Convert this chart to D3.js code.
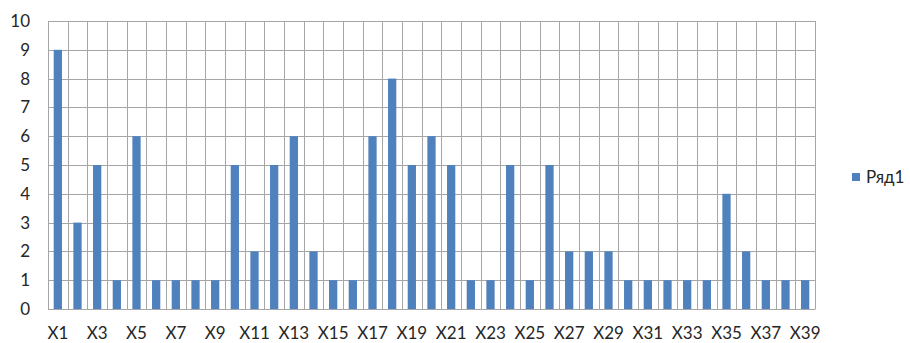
<!DOCTYPE html>
<html>
<head>
<meta charset="utf-8">
<script src="https://cdn.jsdelivr.net/npm/d3@7"></script>
<style>
  html, body { margin: 0; padding: 0; background: #fff; }
  svg { display: block; font-family: Lato, "Open Sans", sans-serif; }
</style>
</head>
<body>
<svg id="chart" width="910" height="343"></svg>
<script>
// Categories X1..X39 and their counts
const categories = ["X1","X2","X3","X4","X5","X6","X7","X8","X9","X10",
  "X11","X12","X13","X14","X15","X16","X17","X18","X19","X20",
  "X21","X22","X23","X24","X25","X26","X27","X28","X29","X30",
  "X31","X32","X33","X34","X35","X36","X37","X38","X39"];
const values = [9,3,5,1,6,1,1,1,1,5,
  2,5,6,2,1,1,6,8,5,6,
  5,1,1,5,1,5,2,2,2,1,
  1,1,1,1,4,2,1,1,1];
const yTicks = [0,1,2,3,4,5,6,7,8,9,10];
const seriesName = "Ряд1";

const svg = d3.select("#chart");
const plot = { left: 48, right: 815, top: 21, bottom: 309 };
const barColor = "#4f81bd";
const gridColor = "#a6a6a6";
const textColor = "#262626";
const fontFamily = "Lato, 'Open Sans', sans-serif";

const x = d3.scaleBand().domain(categories).range([plot.left, plot.right]).paddingInner(0).paddingOuter(0);
const y = d3.scaleLinear().domain([0, 10]).range([plot.bottom, plot.top]);

// horizontal gridlines
svg.append("g").selectAll("line").data(yTicks).join("line")
  .attr("x1", plot.left).attr("x2", plot.right)
  .attr("y1", d => Math.round(y(d)) + 0.5).attr("y2", d => Math.round(y(d)) + 0.5)
  .attr("stroke", gridColor).attr("stroke-width", 1);

// vertical gridlines at category boundaries
const bounds = categories.map(c => x(c)).concat([plot.right]);
svg.append("g").selectAll("line").data(bounds).join("line")
  .attr("x1", d => Math.round(d) + 0.5).attr("x2", d => Math.round(d) + 0.5)
  .attr("y1", plot.top).attr("y2", plot.bottom)
  .attr("stroke", gridColor).attr("stroke-width", 1);

// bars
const barW = x.bandwidth() * 0.42;
svg.append("g").selectAll("rect").data(values).join("rect")
  .attr("x", (d, i) => x(categories[i]) + (x.bandwidth() - barW) / 2)
  .attr("y", d => y(d))
  .attr("width", barW)
  .attr("height", d => y(0) - y(d))
  .attr("fill", barColor);

// y axis labels
const yAxis = d3.axisLeft(y).tickValues(yTicks).tickSize(0).tickPadding(18).tickFormat(d3.format("d"));
const gy = svg.append("g").attr("transform", `translate(${plot.left},0)`).call(yAxis);
gy.select(".domain").remove();
gy.selectAll("text").attr("font-size", 17).attr("fill", textColor).attr("font-family", fontFamily);

// x axis labels (every other category)
const xAxis = d3.axisBottom(x).tickSize(0).tickPadding(18)
  .tickFormat((d, i) => i % 2 === 0 ? d : "");
const gx = svg.append("g").attr("transform", `translate(0,${plot.bottom})`).call(xAxis);
gx.select(".domain").attr("stroke", gridColor);
gx.selectAll("text").attr("font-size", 17).attr("fill", textColor).attr("font-family", fontFamily);

// legend
const lg = svg.append("g").attr("transform", "translate(852,173)");
lg.append("rect").attr("width", 8).attr("height", 8).attr("fill", barColor);
lg.append("text").attr("x", 14).attr("y", 9.5).attr("font-size", 17).attr("fill", textColor)
  .attr("font-family", fontFamily).text(seriesName);
</script>
</body>
</html>
